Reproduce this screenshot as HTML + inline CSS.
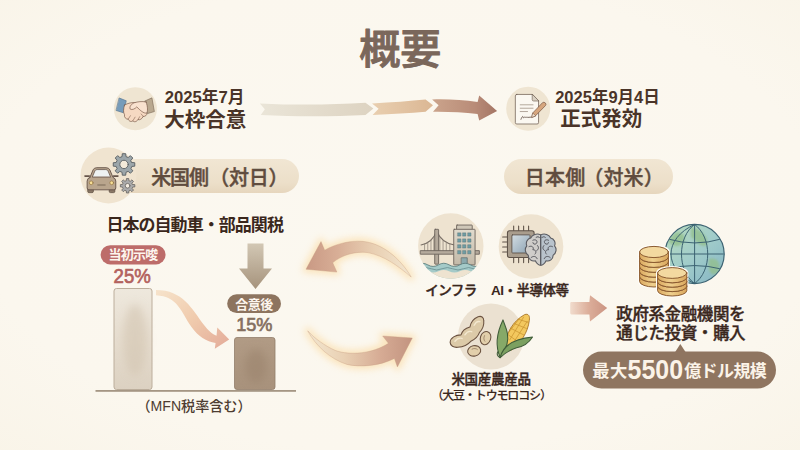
<!DOCTYPE html>
<html lang="ja">
<head>
<meta charset="utf-8">
<title>概要</title>
<style>
html,body{margin:0;padding:0;width:800px;height:450px;overflow:hidden;background:#fbf7ee;}
svg{display:block;position:absolute;left:0;top:0;}
text{font-family:"Liberation Sans","Noto Sans CJK JP",sans-serif;}
.b{font-weight:700;}
.m{font-weight:500;}
</style>
</head>
<body>
<svg width="800" height="450" viewBox="0 0 800 450">
<defs>
  <radialGradient id="bg" cx="50%" cy="48%" r="75%">
    <stop offset="0" stop-color="#fbf8f0"/>
    <stop offset="0.7" stop-color="#fbf7ee"/>
    <stop offset="1" stop-color="#f9f4e8"/>
  </radialGradient>
  <linearGradient id="rib" gradientUnits="userSpaceOnUse" x1="262" x2="500" y1="0" y2="0">
    <stop offset="0" stop-color="#e9e3d6"/>
    <stop offset="0.4" stop-color="#e2d6c2"/>
    <stop offset="0.62" stop-color="#dcbc9c"/>
    <stop offset="0.8" stop-color="#c09a84"/>
    <stop offset="1" stop-color="#a17764"/>
  </linearGradient>
  <linearGradient id="dng" x1="0" x2="0" y1="0" y2="1">
    <stop offset="0" stop-color="#d2c7b4"/>
    <stop offset="1" stop-color="#a6937c"/>
  </linearGradient>
  <linearGradient id="bar1" x1="0" x2="0" y1="0" y2="1">
    <stop offset="0" stop-color="#eee8dd"/>
    <stop offset="0.5" stop-color="#e6ddcf"/>
    <stop offset="1" stop-color="#dcd1c1"/>
  </linearGradient>
  <linearGradient id="bar2" x1="0" x2="0" y1="0" y2="1">
    <stop offset="0" stop-color="#b19b85"/>
    <stop offset="1" stop-color="#a8927c"/>
  </linearGradient>
  <linearGradient id="cur" x1="0" x2="1" y1="0" y2="1">
    <stop offset="0" stop-color="#f6e3cb"/>
    <stop offset="0.5" stop-color="#f0cbad"/>
    <stop offset="1" stop-color="#e3ab99"/>
  </linearGradient>
  <linearGradient id="cyU" gradientUnits="userSpaceOnUse" x1="411" x2="306" y1="0" y2="0">
    <stop offset="0" stop-color="#f3e6cf"/>
    <stop offset="0.35" stop-color="#e9d0b3"/>
    <stop offset="0.7" stop-color="#d8ae96"/>
    <stop offset="1" stop-color="#c99984"/>
  </linearGradient>
  <linearGradient id="cyL" gradientUnits="userSpaceOnUse" x1="308" x2="412" y1="0" y2="0">
    <stop offset="0" stop-color="#f3e6cf"/>
    <stop offset="0.35" stop-color="#e9d0b3"/>
    <stop offset="0.7" stop-color="#d6ab94"/>
    <stop offset="1" stop-color="#c39480"/>
  </linearGradient>
  <linearGradient id="sma" x1="0" x2="1" y1="0" y2="0">
    <stop offset="0" stop-color="#f1dccd"/>
    <stop offset="0.5" stop-color="#dcae9a"/>
    <stop offset="1" stop-color="#cb9482"/>
  </linearGradient>
  <linearGradient id="pill" x1="0" x2="0" y1="0" y2="1">
    <stop offset="0" stop-color="#f1e6d3"/>
    <stop offset="0.7" stop-color="#ecdfc9"/>
    <stop offset="1" stop-color="#e6d6bd"/>
  </linearGradient>
  <filter id="blur3" x="-50%" y="-50%" width="200%" height="200%"><feGaussianBlur stdDeviation="4"/></filter>
  <linearGradient id="bld" x1="0" x2="0" y1="0" y2="1">
    <stop offset="0" stop-color="#e1dbcd"/>
    <stop offset="1" stop-color="#c3b9a8"/>
  </linearGradient>
  <linearGradient id="scr" x1="0" x2="1" y1="0" y2="1">
    <stop offset="0" stop-color="#d3dde3"/>
    <stop offset="1" stop-color="#8da3b3"/>
  </linearGradient>
  <linearGradient id="coinS" x1="0" x2="1" y1="0" y2="0">
    <stop offset="0" stop-color="#dba95f"/>
    <stop offset="0.45" stop-color="#efd08e"/>
    <stop offset="1" stop-color="#d9a65c"/>
  </linearGradient>
  <linearGradient id="glb" x1="0" x2="1" y1="0" y2="1">
    <stop offset="0" stop-color="#b9dcbc"/>
    <stop offset="0.5" stop-color="#a2cdca"/>
    <stop offset="1" stop-color="#84b4c4"/>
  </linearGradient>
  <linearGradient id="rib1" x1="0" x2="1" y1="0" y2="0">
    <stop offset="0" stop-color="#eae5d8"/>
    <stop offset="1" stop-color="#ddd3c1"/>
  </linearGradient>
  <linearGradient id="rib2" x1="0" x2="1" y1="0" y2="0">
    <stop offset="0" stop-color="#e9cfb0"/>
    <stop offset="1" stop-color="#dbb794"/>
  </linearGradient>
  <linearGradient id="rib3" x1="0" x2="1" y1="0" y2="0">
    <stop offset="0" stop-color="#cba48c"/>
    <stop offset="0.65" stop-color="#b98c78"/>
    <stop offset="1" stop-color="#a47564"/>
  </linearGradient>
  <filter id="soft" x="-20%" y="-20%" width="140%" height="140%"><feGaussianBlur stdDeviation="0.5"/></filter>
  <filter id="glow" x="-30%" y="-50%" width="160%" height="200%"><feGaussianBlur stdDeviation="3.5"/></filter>
</defs>
<rect width="800" height="450" fill="url(#bg)"/>

<!-- TITLE -->
<text x="400.200" y="64.300" text-anchor="middle" class="m" font-size="41" fill="#7a675b" stroke="#7a675b" stroke-width="1" stroke-linejoin="round" stroke-linecap="round">概要</text>

<!-- TIMELINE -->
<g id="timeline">
  <circle cx="135.400" cy="108.700" r="21.500" fill="#efe5d2"/>
  <g transform="translate(105,80) scale(0.12222)" stroke-linejoin="round" stroke-linecap="round">
    <path d="M118 148 L174 170 L150 268 L93 250 Z" fill="#779cba" stroke="#4f6f8c" stroke-width="5"/>
    <path d="M326 172 L384 146 L404 258 L350 274 Z" fill="#b9a88f" stroke="#7a6856" stroke-width="5"/>
    <path d="M160 205 C185 190 225 180 255 186 C290 205 330 250 342 268 C348 288 326 300 312 298 C304 318 284 330 270 324 C258 344 236 346 228 334 C214 346 194 336 190 320 C170 322 154 302 160 284 C148 268 150 235 160 205 Z" fill="#f6d9c2" stroke="#6b4a3a" stroke-width="5"/>
    <path d="M336 180 C300 172 268 178 240 186 C214 198 198 218 206 238 C222 248 246 236 260 220 C286 246 316 276 340 270 C350 262 352 220 336 180 Z" fill="#f9e2cf" stroke="#6b4a3a" stroke-width="5"/>
    <path d="M190 320 L208 292 M228 334 L246 304 M270 324 L284 300 M312 298 L296 278" fill="none" stroke="#6b4a3a" stroke-width="4"/>
  </g>
  <text x="164.700" y="102.800" class="b" font-size="16.700" fill="#4a3428">2025年7月</text>
  <text x="164.200" y="127" class="b" font-size="20.500" fill="#4a3428">大枠合意</text>
  <path d="M259.900 103.400 C300 105.500 335 104.500 365.500 102.700 L373.400 108.600 L365.500 115.100 C335 116.500 300 117 260.800 115.100 L264.800 109.200 Z" fill="url(#rib1)" filter="url(#soft)"/>
  <path d="M372 103.400 C392 102.500 410 101 425.600 99.500 L433 105.300 L425.600 111.800 C410 113 392 114.300 372.600 115.100 L378.600 108.800 Z" fill="url(#rib2)" filter="url(#soft)"/>
  <path d="M432.100 99.500 C448 99 463 100 477.600 102.100 L479.200 95.600 L497.100 110.900 L479.200 120.600 L477.600 114.100 C463 112.300 448 111.600 433 111.800 L438.600 105.300 Z" fill="url(#rib3)" filter="url(#soft)"/>
  <circle cx="528.200" cy="108.700" r="22" fill="#efe5d2"/>
  <g transform="translate(497,80) scale(0.12222)" stroke-linejoin="round" stroke-linecap="round">
    <path d="M162 118 L288 118 L340 172 L340 348 Q340 360 328 360 L162 360 Q150 360 150 348 L150 130 Q150 118 162 118 Z" fill="#fbf8f1" stroke="#6b5a4e" stroke-width="6"/>
    <path d="M288 118 L288 160 Q288 172 300 172 L340 172 Z" fill="#d9d0c2" stroke="#6b5a4e" stroke-width="5"/>
    <path d="M190 203 H295 M190 231 H295 M190 258 H250" stroke="#9a8b7d" stroke-width="6" fill="none"/>
    <path d="M196 322 C204 300 212 292 214 304 C216 318 222 300 230 304 C238 310 244 300 252 306 L276 304" stroke="#5e4b40" stroke-width="6.500" fill="none"/>
    <path d="M284 304 L292 270 L372 186 Q384 176 396 188 Q406 200 396 210 L316 292 Z" fill="#d6a67e" stroke="#6b4a3a" stroke-width="5"/>
    <path d="M284 304 L292 270 L316 292 Z" fill="#f3e3cf" stroke="#6b4a3a" stroke-width="4"/>
  </g>
  <text x="555.200" y="102.800" class="b" font-size="16.500" fill="#4a3428">2025年9月4日</text>
  <text x="560.300" y="126" class="b" font-size="20.500" fill="#4a3428">正式発効</text>
</g>

<!-- PILLS -->
<g id="pills">
  <rect x="95" y="159" width="204" height="34" rx="17" fill="url(#pill)"/>
  <circle cx="108.500" cy="175.500" r="28" fill="#f0e4d0"/>
  <g transform="translate(75,145) scale(0.15560)" stroke-linejoin="round" stroke-linecap="round">
    <path d="M365.4 112.400 L384.100 114 L384.100 136 L365.400 137.600 L359.600 151.700 L371.600 166.100 L356.100 181.600 L341.700 169.600 L327.600 175.400 L326 194.100 L304 194.100 L302.400 175.400 L288.300 169.600 L273.900 181.600 L258.400 166.100 L270.400 151.700 L264.600 137.600 L245.900 136 L245.900 114 L264.600 112.400 L270.400 98.300 L258.400 83.900 L273.900 68.400 L288.300 80.400 L302.400 74.600 L304 55.900 L326 55.900 L327.600 74.600 L341.700 80.400 L356.100 68.400 L371.600 83.900 L359.600 98.300 Z" fill="#9ca6aa" stroke="#5b6165" stroke-width="6"/>
    <circle cx="315" cy="125" r="27" fill="#f3ead9" stroke="#5b6165" stroke-width="6"/>
    <path d="M371 253.700 L384.400 254.600 L384.400 269.400 L371 270.300 L367.200 279.500 L376 289.600 L365.600 300 L355.500 291.200 L346.300 295 L345.400 308.400 L330.600 308.400 L329.700 295 L320.500 291.200 L310.400 300 L300 289.600 L308.800 279.500 L305 270.300 L291.600 269.400 L291.600 254.600 L305 253.700 L308.800 244.500 L300 234.400 L310.400 224 L320.500 232.800 L329.700 229 L330.600 215.600 L345.400 215.600 L346.300 229 L355.500 232.800 L365.600 224 L376 234.400 L367.200 244.500 Z" fill="#aaaaaa" stroke="#66625e" stroke-width="5"/>
    <circle cx="338" cy="262" r="15" fill="#f5eee2" stroke="#66625e" stroke-width="5"/>
    <rect x="82" y="270" width="36" height="36" rx="8" fill="#8a7866" stroke="#5e4e42" stroke-width="5"/>
    <rect x="220" y="270" width="36" height="36" rx="8" fill="#8a7866" stroke="#5e4e42" stroke-width="5"/>
    <path d="M96 208 L116 160 Q122 146 140 146 L200 146 Q218 146 224 160 L244 208 Q262 214 262 232 L262 276 Q262 288 250 288 L90 288 Q78 288 78 276 L78 232 Q78 214 96 208 Z" fill="#b9a58d" stroke="#66544a" stroke-width="6"/>
    <path d="M112 204 L128 166 Q132 158 142 158 L198 158 Q208 158 212 166 L228 204 Z" fill="#eef2f2" stroke="#66544a" stroke-width="5"/>
    <path d="M64 200 L92 200 M248 200 L276 200" stroke="#66544a" stroke-width="10"/>
    <circle cx="104" cy="243" r="12" fill="#f7df96" stroke="#8a6a3a" stroke-width="4"/>
    <circle cx="236" cy="243" r="12" fill="#f7df96" stroke="#8a6a3a" stroke-width="4"/>
    <rect x="142" y="252" width="56" height="10" rx="5" fill="#8f7d6a"/>
  </g>
  <text x="151.300" y="185" class="m" font-size="20" fill="#604c3e" letter-spacing="-1.200" stroke="#604c3e" stroke-width="0.45">米国側</text><text x="209.200" y="185" class="m" font-size="20" fill="#604c3e" letter-spacing="-0.200" stroke="#604c3e" stroke-width="0.45">（対日）</text>
  <rect x="504" y="159" width="169" height="35" rx="17.500" fill="url(#pill)"/>
  <text x="524.800" y="184.500" class="m" font-size="20" fill="#604c3e" letter-spacing="0.200" stroke="#604c3e" stroke-width="0.45">日本側</text><text x="583.200" y="184.500" class="m" font-size="20" fill="#604c3e" letter-spacing="0.200" stroke="#604c3e" stroke-width="0.45">（対米）</text>
</g>

<!-- CHART -->
<g id="chart">
  <text x="106.400" y="230.600" class="b" font-size="17" letter-spacing="-0.950" fill="#3a271c">日本の自動車・部品関税</text>
  <!-- down arrow -->
  <path d="M247.500 243.500 L263.500 243.500 L263.500 268.500 L272 268.500 L255.500 289 L239 268.500 L247.500 268.500 Z" fill="url(#dng)" filter="url(#soft)"/>
  <!-- label 1 -->
  <rect x="100.600" y="245.200" width="65" height="19.200" rx="9.600" fill="#bd6c6a"/>
  <text x="133" y="259.300" text-anchor="middle" class="b" font-size="13" letter-spacing="-0.700" fill="#fdf6ee">当初示唆</text>
  <text x="113.600" y="283" font-size="20" fill="#b3625e" stroke="#b3625e" stroke-width="0.700" textLength="37.200" lengthAdjust="spacingAndGlyphs">25%</text>
  <rect x="114" y="288.500" width="38" height="101" rx="2.500" fill="url(#bar1)" stroke="#bcae9c" stroke-width="1"/>
  <ellipse cx="135" cy="340" rx="12" ry="36" fill="#d3c5b1" opacity="0.6" filter="url(#blur3)"/>
  <!-- label 2 -->
  <rect x="227.200" y="294.200" width="53.800" height="18.900" rx="9.450" fill="#8d745f"/>
  <text x="254" y="308.500" text-anchor="middle" class="b" font-size="13" letter-spacing="-0.500" fill="#fdf6ee">合意後</text>
  <text x="236.200" y="331.400" font-size="19" fill="#857060" stroke="#857060" stroke-width="0.700" textLength="36.300" lengthAdjust="spacingAndGlyphs">15%</text>
  <rect x="234.500" y="337.500" width="40.500" height="52" rx="2.500" fill="url(#bar2)" stroke="#927d6b" stroke-width="0.8"/>
  <ellipse cx="256" cy="366" rx="11" ry="17" fill="#9a826c" opacity="0.55" filter="url(#blur3)"/>
  <!-- baseline -->
  <rect x="95.500" y="390" width="200.500" height="1.800" fill="#a59684"/>
  <text x="194" y="411" text-anchor="middle" class="m" font-size="14.100" fill="#4d3c31">（MFN税率含む）</text>
  <!-- curved arrow between bars -->
  <path d="M156 290 C183 290 192 309 204 325 C208.500 331 212.500 334 216.500 335.700 L217.300 327.600 L229.200 339.600 L214.800 348.800 L215.600 343 C206.500 341.500 198 336.500 191.500 327 C180.500 311 178 296.500 156 295.200 Z" fill="url(#cur)" filter="url(#soft)"/>
</g>

<!-- CYCLE ARROWS -->
<g id="cycle">
  <path id="upA" d="M306 269.200 L321 241.600 L324.700 250.200 C335 244 350 240.500 362 241.300 C382 243 400 258 411.200 277 C398 266 385 256 368 252.600 C355 251 342 255 332.700 262.700 L336.900 272.100 Z" fill="#fbdfae" stroke="#fbdfae" stroke-width="7" stroke-linejoin="round" opacity="0.75" filter="url(#glow)"/>
  <path id="loA" d="M307.700 330.800 C314 338 325 346 335.600 350.600 C350 355.500 372 354 388.400 343.300 L382.700 336 L412.300 338 L397.400 366.900 L394.400 358.400 C380 366 360 367.500 347 364.400 C330 359 316 346 307.700 330.800 Z" fill="#fbdfae" stroke="#fbdfae" stroke-width="7" stroke-linejoin="round" opacity="0.75" filter="url(#glow)"/>
  <path d="M306 269.200 L321 241.600 L324.700 250.200 C335 244 350 240.500 362 241.300 C382 243 400 258 411.200 277 C398 266 385 256 368 252.600 C355 251 342 255 332.700 262.700 L336.900 272.100 Z" fill="url(#cyU)" stroke="#c59a80" stroke-opacity="0.45" stroke-width="0.800" stroke-linejoin="round" filter="url(#soft)"/>
  <path d="M307.700 330.800 C314 338 325 346 335.600 350.600 C350 355.500 372 354 388.400 343.300 L382.700 336 L412.300 338 L397.400 366.900 L394.400 358.400 C380 366 360 367.500 347 364.400 C330 359 316 346 307.700 330.800 Z" fill="url(#cyL)" stroke="#c59a80" stroke-opacity="0.45" stroke-width="0.800" stroke-linejoin="round" filter="url(#soft)"/>
</g>

<!-- RIGHT ICON GROUP -->
<g id="righticons">
  <circle cx="450.800" cy="246" r="32.700" fill="#eee3d0"/>
  <g transform="translate(410,206.200) scale(0.17778)" stroke-linejoin="round" stroke-linecap="round">
    <clipPath id="cpB"><circle cx="229.500" cy="224" r="184"/></clipPath>
    <g clip-path="url(#cpB)">
    <!-- cables -->
    <path d="M150 138 C135 185 100 210 62 218 M150 138 C170 190 210 212 250 218" fill="none" stroke="#7a7067" stroke-width="6"/>
    <path d="M82 212 V252 M100 204 V252 M118 190 V252 M134 172 V252 M168 176 V252 M186 194 V252 M204 206 V252 M224 213 V252" stroke="#8a8076" stroke-width="4"/>
    <!-- tower -->
    <rect x="139" y="130" width="22" height="196" rx="3" fill="#b5aa9c" stroke="#6b625a" stroke-width="5"/>
    <!-- deck -->
    <rect x="60" y="250" width="330" height="20" fill="#b5aa9c" stroke="#6b625a" stroke-width="5"/>
    <!-- building -->
    <rect x="262" y="106" width="88" height="28" rx="3" fill="#cfc7b8" stroke="#6b625a" stroke-width="5"/>
    <rect x="246" y="130" width="120" height="200" rx="3" fill="url(#bld)" stroke="#6b625a" stroke-width="5"/>
    <g fill="#6e9ca3" stroke="#4f6f76" stroke-width="2.500">
      <rect x="269" y="150" width="17" height="18"/><rect x="297" y="150" width="17" height="18"/><rect x="326" y="150" width="17" height="18"/>
      <rect x="269" y="184" width="17" height="18"/><rect x="297" y="184" width="17" height="18"/><rect x="326" y="184" width="17" height="18"/>
      <rect x="269" y="217" width="17" height="18"/><rect x="297" y="217" width="17" height="18"/><rect x="326" y="217" width="17" height="18"/>
      <rect x="269" y="250" width="17" height="18"/><rect x="297" y="250" width="17" height="18"/><rect x="326" y="250" width="17" height="18"/>
    </g>
    <rect x="290" y="290" width="32" height="40" fill="#8aa9ad" stroke="#5d6a6a" stroke-width="4"/>
    <!-- water -->
    <path d="M40 330 Q70 312 100 330 T160 330 T220 330 T280 330 T340 330 T400 330 L400 420 L40 420 Z" fill="#a4cac8" stroke="#5f7f80" stroke-width="5"/>
    <path d="M60 352 Q90 338 120 352 T180 352 T240 352 T300 352 T360 352 T420 352" fill="none" stroke="#6d9496" stroke-width="5"/>
    <path d="M40 366 Q70 352 100 366 T160 366 T220 366 T280 366 T340 366 T400 366 L400 430 L40 430 Z" fill="#eee3d0"/>
    </g>
  </g>
  <circle cx="531" cy="246.500" r="32.300" fill="#eee3d0"/>
  <g transform="translate(487,205) scale(0.17778)" stroke-linejoin="round" stroke-linecap="round">
    <path d="M150 118 V146 M178 118 V146 M206 118 V146 M234 118 V146 M150 294 V324 M178 294 V324 M206 294 V324 M234 294 V324 M88 180 H116 M88 208 H116 M88 236 H116 M88 264 H116" stroke="#5e5248" stroke-width="6" fill="none"/>
    <rect x="115" y="145" width="150" height="150" rx="12" fill="#a99d8d" stroke="#5e5248" stroke-width="6"/>
    <rect x="140" y="168" width="102" height="102" rx="4" fill="url(#scr)" stroke="#5e5248" stroke-width="5"/>
    <!-- brain -->
    <path d="M302 168 C280 158 254 166 246 186 C226 190 216 212 224 230 C210 246 214 272 232 282 C232 304 252 320 272 314 C280 334 296 340 302 338 Z" fill="#cfcdca" stroke="#595a60" stroke-width="6"/>
    <path d="M302 168 C324 158 350 166 358 186 C378 190 388 212 380 230 C394 246 390 272 372 282 C372 304 352 320 332 314 C324 334 308 340 302 338 Z" fill="#b9c3cc" stroke="#595a60" stroke-width="6"/>
    <path d="M302 168 V338" stroke="#595a60" stroke-width="5"/>
    <path d="M258 198 C274 190 288 202 278 216 C270 224 258 220 258 212 M236 234 C252 226 266 238 258 252 C272 250 282 264 270 276 M248 296 C260 284 278 288 282 302 M284 228 C294 238 290 252 280 256 M346 198 C330 190 316 202 326 216 C334 224 346 220 346 212 M368 234 C352 226 338 238 346 252 C332 250 322 264 334 276 M356 296 C344 284 326 288 322 302 M320 228 C310 238 314 252 324 256 M276 182 C284 176 292 178 296 184 M328 182 C320 176 312 178 308 184" fill="none" stroke="#55565c" stroke-width="5.500"/>
  </g>
  <circle cx="491" cy="336.500" r="33" fill="#ebe1d1"/>
  <g transform="translate(440,300) scale(0.17794)" stroke-linejoin="round" stroke-linecap="round">
    <!-- pod -->
    <path d="M57 238 C58 212 88 196 118 196 C124 176 140 160 168 152 C172 128 190 104 214 94 C232 88 246 96 246 116 C248 140 238 166 222 182 C214 204 198 220 176 230 C160 248 130 264 100 266 C76 268 58 258 57 238 Z" fill="#dccaa8" stroke="#6b5240" stroke-width="6"/>
    <path d="M84 232 C96 216 112 212 124 216 M140 196 C150 180 166 174 178 178 M192 142 C200 126 214 118 224 122" fill="none" stroke="#f3e8cf" stroke-width="8"/>
    <!-- beans -->
    <ellipse cx="256" cy="214" rx="29" ry="38" transform="rotate(18 256 214)" fill="#e2cfab" stroke="#6b5240" stroke-width="6"/>
    <path d="M250 200 C244 212 246 226 252 232" fill="none" stroke="#8a7058" stroke-width="4"/>
    <ellipse cx="192" cy="286" rx="37" ry="29" transform="rotate(-12 192 286)" fill="#e2cfab" stroke="#6b5240" stroke-width="6"/>
    <path d="M180 276 C190 270 204 272 210 278" fill="none" stroke="#8a7058" stroke-width="4"/>
    <!-- corn cob -->
    <path d="M370 264 C362 200 408 118 476 82 C498 74 506 92 502 114 C494 184 452 244 402 280 Z" fill="#f3c85e" stroke="#a87428" stroke-width="5"/>
    <path d="M392 224 L470 96 M410 244 L490 120 M380 190 L446 104 M396 158 L470 196 M416 132 L486 160 M440 108 L496 126 M384 196 L440 236" fill="none" stroke="#c8922e" stroke-width="4"/>
    <!-- husks -->
    <path d="M338 322 C306 250 326 170 354 112 C366 150 392 190 376 250 C366 286 352 304 338 322 Z" fill="#86a968" stroke="#3f5c38" stroke-width="6"/>
    <path d="M338 324 C350 270 400 220 520 208 C500 240 470 262 430 268 C396 280 362 300 338 324 Z" fill="#7ba060" stroke="#3f5c38" stroke-width="6"/>
    <path d="M338 324 C320 316 318 300 326 290" fill="none" stroke="#3f5c38" stroke-width="6"/>
  </g>
  <text x="425.200" y="294.800" class="m" font-size="13.500" letter-spacing="-0.550" fill="#3a271d" stroke="#3a271d" stroke-width="0.4">インフラ</text>
  <text x="491" y="294.800" class="m" font-size="13.500" letter-spacing="-0.500" fill="#3a271d" stroke="#3a271d" stroke-width="0.4"><tspan font-weight="700" stroke-width="0">AI</tspan>・半導体等</text>
  <text x="451.400" y="384.300" class="m" font-size="13.500" letter-spacing="-0.300" fill="#3a271d" stroke="#3a271d" stroke-width="0.4">米国産農産品</text>
  <text x="431.400" y="399.600" class="m" font-size="12" letter-spacing="-1.150" fill="#3a271d" stroke="#3a271d" stroke-width="0.15">（大豆・トウモロコシ）</text>
  <!-- small arrow -->
  <path d="M571.500 301.900 L589.400 301.900 L590 295.200 L607.200 308.100 L590 321.400 L589.400 314.400 L571.500 314.400 Q570.200 314.400 570.200 313 L570.200 303.300 Q570.200 301.900 571.500 301.900 Z" fill="url(#sma)" filter="url(#soft)"/>
</g>

<!-- INVEST GROUP -->
<g id="invest">
  <g transform="translate(625,215) scale(0.2)" stroke-linejoin="round" stroke-linecap="round">
    <!-- globe -->
    <circle cx="348" cy="195" r="148" fill="url(#glb)" stroke="#3c6372" stroke-width="6"/>
    <clipPath id="cpG"><circle cx="348" cy="195" r="146"/></clipPath>
    <g clip-path="url(#cpG)">
      <path d="M330 60 C380 70 420 110 410 150 C380 170 360 130 330 110 Z M250 90 C290 80 310 110 290 140 C260 170 230 150 215 130 Z M420 220 C460 210 480 240 470 280 C440 320 410 290 420 220 Z" fill="#93bf8e" opacity="0.8" filter="url(#blur3)"/>
      <path d="M348 47 V343 M200 195 H496 M215 120 Q348 160 481 120 M215 270 Q348 235 481 270 M348 47 C260 110 260 280 348 343 M348 47 C436 110 436 280 348 343 M348 47 C190 120 190 270 348 343" fill="none" stroke="#3c6372" stroke-width="5"/>
    </g>
    <!-- coin stacks -->
    <path d="M73 185 A72 28 0 0 1 217 185 V332.0 A72 28 0 0 1 73 332.0 Z" fill="#fffdf8" stroke="#fffdf8" stroke-width="16"/>
    <path d="M73 307.5 V332.0 A72 28 0 0 0 217 332.0 V307.5 Z" fill="url(#coinS)" stroke="#8a5a30" stroke-width="5"/>
    <ellipse cx="145" cy="307.5" rx="72" ry="28" fill="#e9c688" stroke="#8a5a30" stroke-width="5"/>
    <path d="M73 283.0 V307.5 A72 28 0 0 0 217 307.5 V283.0 Z" fill="url(#coinS)" stroke="#8a5a30" stroke-width="5"/>
    <ellipse cx="145" cy="283.0" rx="72" ry="28" fill="#e9c688" stroke="#8a5a30" stroke-width="5"/>
    <path d="M73 258.5 V283.0 A72 28 0 0 0 217 283.0 V258.5 Z" fill="url(#coinS)" stroke="#8a5a30" stroke-width="5"/>
    <ellipse cx="145" cy="258.5" rx="72" ry="28" fill="#e9c688" stroke="#8a5a30" stroke-width="5"/>
    <path d="M73 234.0 V258.5 A72 28 0 0 0 217 258.5 V234.0 Z" fill="url(#coinS)" stroke="#8a5a30" stroke-width="5"/>
    <ellipse cx="145" cy="234.0" rx="72" ry="28" fill="#e9c688" stroke="#8a5a30" stroke-width="5"/>
    <path d="M73 209.5 V234.0 A72 28 0 0 0 217 234.0 V209.5 Z" fill="url(#coinS)" stroke="#8a5a30" stroke-width="5"/>
    <ellipse cx="145" cy="209.5" rx="72" ry="28" fill="#e9c688" stroke="#8a5a30" stroke-width="5"/>
    <path d="M73 185.0 V209.5 A72 28 0 0 0 217 209.5 V185.0 Z" fill="url(#coinS)" stroke="#8a5a30" stroke-width="5"/>
    <ellipse cx="145" cy="185.0" rx="72" ry="28" fill="#f3d9a0" stroke="#8a5a30" stroke-width="5"/>
    <path d="M163 290 A73 27 0 0 1 309 290 V378 A73 27 0 0 1 163 378 Z" fill="#fffdf8" stroke="#fffdf8" stroke-width="16"/>
    <path d="M163 356 V378 A73 27 0 0 0 309 378 V356 Z" fill="url(#coinS)" stroke="#8a5a30" stroke-width="5"/>
    <ellipse cx="236" cy="356" rx="73" ry="27" fill="#e9c688" stroke="#8a5a30" stroke-width="5"/>
    <path d="M163 334 V356 A73 27 0 0 0 309 356 V334 Z" fill="url(#coinS)" stroke="#8a5a30" stroke-width="5"/>
    <ellipse cx="236" cy="334" rx="73" ry="27" fill="#e9c688" stroke="#8a5a30" stroke-width="5"/>
    <path d="M163 312 V334 A73 27 0 0 0 309 334 V312 Z" fill="url(#coinS)" stroke="#8a5a30" stroke-width="5"/>
    <ellipse cx="236" cy="312" rx="73" ry="27" fill="#e9c688" stroke="#8a5a30" stroke-width="5"/>
    <path d="M163 290 V312 A73 27 0 0 0 309 312 V290 Z" fill="url(#coinS)" stroke="#8a5a30" stroke-width="5"/>
    <ellipse cx="236" cy="290" rx="73" ry="27" fill="#f3d9a0" stroke="#8a5a30" stroke-width="5"/>
  </g>
  <text x="616.300" y="320.300" class="m" font-size="16.500" letter-spacing="-0.400" fill="#3a271d" stroke="#3a271d" stroke-width="0.4">政府系金融機関を</text>
  <text x="616.300" y="338.800" class="m" font-size="16.500" letter-spacing="-0.400" fill="#3a271d" stroke="#3a271d" stroke-width="0.4">通じた投資・購入</text>
  <path d="M674.500 353 L680.300 344 L686.200 353 Z" fill="#8f7560"/>
  <rect x="583" y="351.500" width="193" height="37" rx="18.500" fill="#8f7560"/>
  <text x="592.300" y="376.800" class="b" font-size="17.300" letter-spacing="0.400" fill="#fbf3e8">最大</text><text x="627.600" y="378.800" class="b" font-size="27" fill="#fbf3e8" textLength="55.500" lengthAdjust="spacingAndGlyphs">5500</text><text x="684.200" y="376.800" class="b" font-size="17" letter-spacing="-0.600" fill="#fbf3e8">億ドル規模</text>
</g>

</svg>
</body>
</html>
